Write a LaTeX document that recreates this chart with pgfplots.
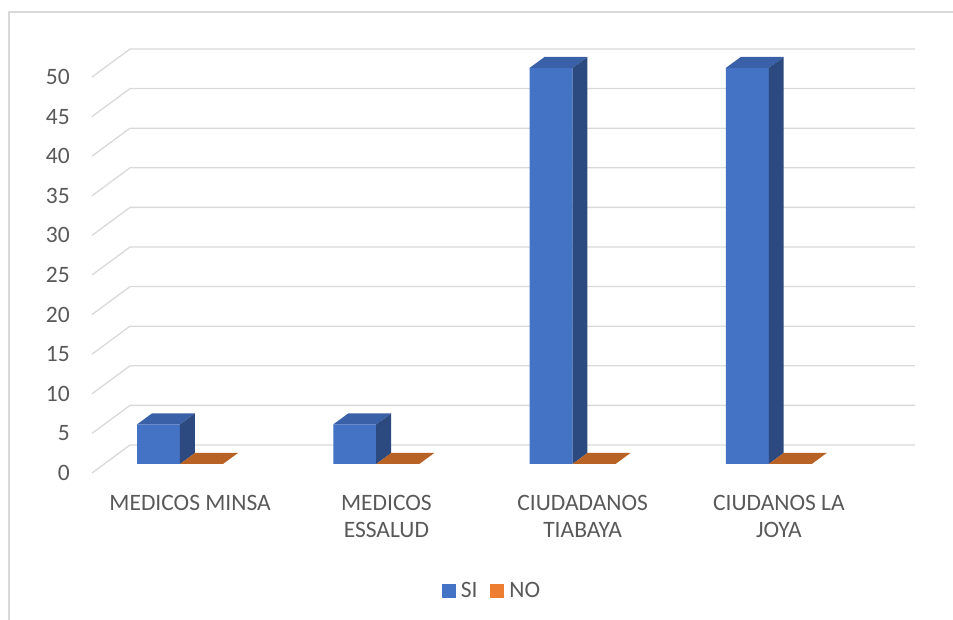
\documentclass[border=0pt]{standalone}
\usepackage{fontspec}
\setmainfont{Carlito}
\usepackage{pgfplots}
\pgfplotsset{compat=1.18}
\definecolor{siFront}{HTML}{4472C4}
\definecolor{siTop}{HTML}{3A61A7}
\definecolor{siSide}{HTML}{2C4A7F}
\definecolor{noFront}{HTML}{ED7D31}
\definecolor{noTop}{HTML}{B96226}
\definecolor{gridc}{HTML}{D9D9D9}
\definecolor{txt}{HTML}{595959}
\begin{document}
\begin{tikzpicture}
\path[use as bounding box] (0pt,0pt) rectangle (953pt,620pt);
\draw[gridc, line width=1.2pt] (9pt,0pt) -- (9pt,608pt) -- (953pt,608pt);
% ---------- axis A: walls, ticks, labels, legend
\begin{axis}[
  at={(92pt,147pt)}, anchor=south west,
  scale only axis, width=823pt, height=424pt,
  xmin=-0.5, xmax=3.6936, ymin=0, ymax=53.535,
  axis line style={draw=none}, major tick length=0pt,
  clip=false,
  /pgf/number format/assume math mode=true,
  ytick={0,5,...,50},
  yticklabel style={inner sep=0pt, anchor=east, xshift=-22pt, font=\fontsize{23.5}{28}\selectfont, text=txt},
  xtick={0,1,2,3},
  xticklabels={{MEDICOS MINSA},{MEDICOS\\ESSALUD},{CIUDADANOS\\TIABAYA},{CIUDANOS LA\\JOYA}},
  xticklabel style={inner sep=0pt, anchor=north, yshift=-22pt, align=center, font=\fontsize{23.5}{27.5}\selectfont, text=txt},
  legend columns=2,
  legend style={at={(0.486,-0.278)}, anchor=center, draw=none, fill=none,
     font=\fontsize{23.5}{28}\selectfont, text=txt,
     /tikz/every even column/.append style={column sep=11pt}},
  legend image code/.code={\fill[#1] (0pt,-7pt) rectangle (14pt,7pt); \path (17pt,0pt);},
]
\addlegendimage{fill=siFront, draw=none}
\addlegendentry{SI}
\addlegendimage{fill=noFront, draw=none}
\addlegendentry{NO}
\addplot[gridc, line width=1.3pt] coordinates {(-0.5,0) (-0.3064,3.535) (3.6936,3.535)};
\addplot[gridc, line width=1.3pt] coordinates {(-0.5,5) (-0.3064,8.535) (3.6936,8.535)};
\addplot[gridc, line width=1.3pt] coordinates {(-0.5,10) (-0.3064,13.535) (3.6936,13.535)};
\addplot[gridc, line width=1.3pt] coordinates {(-0.5,15) (-0.3064,18.535) (3.6936,18.535)};
\addplot[gridc, line width=1.3pt] coordinates {(-0.5,20) (-0.3064,23.535) (3.6936,23.535)};
\addplot[gridc, line width=1.3pt] coordinates {(-0.5,25) (-0.3064,28.535) (3.6936,28.535)};
\addplot[gridc, line width=1.3pt] coordinates {(-0.5,30) (-0.3064,33.535) (3.6936,33.535)};
\addplot[gridc, line width=1.3pt] coordinates {(-0.5,35) (-0.3064,38.535) (3.6936,38.535)};
\addplot[gridc, line width=1.3pt] coordinates {(-0.5,40) (-0.3064,43.535) (3.6936,43.535)};
\addplot[gridc, line width=1.3pt] coordinates {(-0.5,45) (-0.3064,48.535) (3.6936,48.535)};
\addplot[gridc, line width=1.3pt] coordinates {(-0.5,50) (-0.3064,53.535) (3.6936,53.535)};
\end{axis}
% ---------- axis B: bars (front plane of the bars)
\begin{axis}[
  at={(104.2pt,156pt)}, anchor=south west,
  scale only axis, width=823pt, height=424pt,
  xmin=-0.5, xmax=3.6936, ymin=0, ymax=53.535,
  hide axis, clip=false,
]
% front faces
\addplot[ybar, bar width=43pt, bar shift=-43.8pt, fill=siFront, draw=none] coordinates {(0,5) (1,5) (2,50) (3,50)};
\addplot[ybar, bar width=43pt, bar shift=-0.8pt, fill=noFront, draw=none] coordinates {(0,0) (1,0) (2,0) (3,0)};
% SI top faces
\addplot[fill=siTop, draw=none] coordinates {(-0.3329,5) (-0.1138,5) (-0.0374,6.389) (-0.2565,6.389)} -- cycle;
\addplot[fill=siTop, draw=none] coordinates {(0.6671,5) (0.8862,5) (0.9626,6.389) (0.7435,6.389)} -- cycle;
\addplot[fill=siTop, draw=none] coordinates {(1.6671,50) (1.8862,50) (1.9626,51.389) (1.7435,51.389)} -- cycle;
\addplot[fill=siTop, draw=none] coordinates {(2.6671,50) (2.8862,50) (2.9626,51.389) (2.7435,51.389)} -- cycle;
% SI side faces
\addplot[fill=siSide, draw=none] coordinates {(-0.1138,0) (-0.1138,5) (-0.0374,6.389) (-0.0374,1.389)} -- cycle;
\addplot[fill=siSide, draw=none] coordinates {(0.8862,0) (0.8862,5) (0.9626,6.389) (0.9626,1.389)} -- cycle;
\addplot[fill=siSide, draw=none] coordinates {(1.8862,0) (1.8862,50) (1.9626,51.389) (1.9626,1.389)} -- cycle;
\addplot[fill=siSide, draw=none] coordinates {(2.8862,0) (2.8862,50) (2.9626,51.389) (2.9626,1.389)} -- cycle;
% NO top faces (value 0)
\addplot[fill=noTop, draw=none] coordinates {(-0.1138,0) (0.1053,0) (0.1817,1.389) (-0.0374,1.389)} -- cycle;
\addplot[fill=noTop, draw=none] coordinates {(0.8862,0) (1.1053,0) (1.1817,1.389) (0.9626,1.389)} -- cycle;
\addplot[fill=noTop, draw=none] coordinates {(1.8862,0) (2.1053,0) (2.1817,1.389) (1.9626,1.389)} -- cycle;
\addplot[fill=noTop, draw=none] coordinates {(2.8862,0) (3.1053,0) (3.1817,1.389) (2.9626,1.389)} -- cycle;
\end{axis}
\end{tikzpicture}
\end{document}
